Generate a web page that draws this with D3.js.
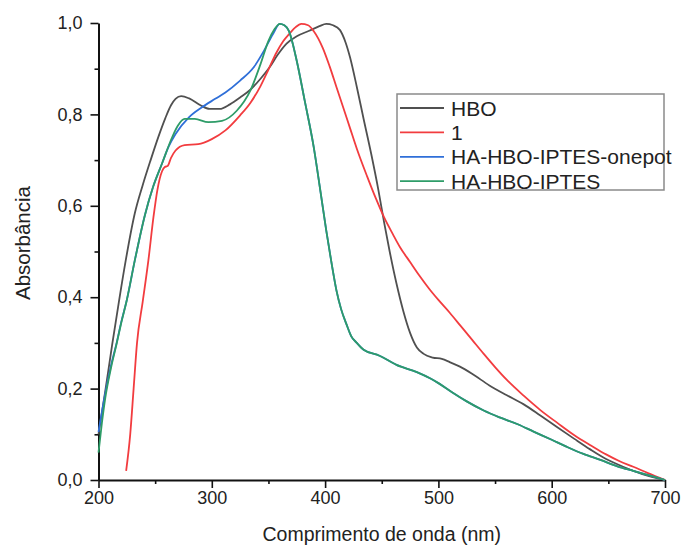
<!DOCTYPE html>
<html>
<head>
<meta charset="utf-8">
<script src="https://cdn.jsdelivr.net/npm/d3@7"></script>
<style>
  body { margin: 0; background: #fff; }
  svg { font-family: "Liberation Sans", Arial, sans-serif; }
</style>
</head>
<body>
<svg id="chart" width="681" height="551"></svg>
<script>
// series names + colours
const seriesNames = ["HBO", "1", "HA-HBO-IPTES-onepot", "HA-HBO-IPTES"];
const seriesColors = ["#505050", "#f23c3f", "#2f6fd8", "#2e9c68"];

// values: [wavelength nm, absorbance]
const hbo = [[200,0.10],[206,0.195],[212,0.295],[218,0.39],[224,0.48],[232,0.583],[239,0.645],[246,0.70],[253,0.752],
  [259,0.792],[264,0.82],[268,0.834],[273,0.84],[280,0.835],[290,0.82],[298,0.812],[307,0.812],[316,0.822],[325,0.837],
  [334,0.854],[343,0.878],[351,0.903],[358,0.93],[366,0.955],[375,0.971],[386,0.983],[395,0.993],[401,0.998],[407,0.995],
  [413,0.985],[418,0.958],[422,0.925],[428,0.86],[434,0.79],[441,0.71],[447,0.635],[452,0.565],[457,0.50],[463,0.43],
  [469,0.37],[475,0.322],[481,0.29],[487,0.276],[495,0.268],[503,0.265],[510,0.258],[519,0.248],[530,0.232],[545,0.207],
  [560,0.186],[575,0.166],[590,0.141],[604,0.117],[620,0.09],[634,0.067],[648,0.046],[663,0.029],[680,0.013],[700,0]];

const red1 = [[224.4,0.02],[228,0.10],[231,0.20],[234,0.30],[239,0.39],[244,0.48],[248.5,0.575],[252,0.635],[256,0.675],
  [258.5,0.685],[261,0.687],[264,0.705],[268,0.721],[276,0.733],[288,0.735],[300,0.746],[312,0.765],[325,0.798],[334,0.825],
  [343,0.862],[350,0.898],[357,0.935],[363,0.96],[369,0.978],[374,0.991],[379,0.998],[385,0.995],[390,0.982],[398,0.945],
  [404,0.905],[410,0.86],[416,0.815],[422,0.77],[428,0.725],[437,0.665],[445,0.615],[452,0.575],[460,0.537],[466,0.51],
  [475,0.477],[483,0.448],[492,0.418],[500,0.394],[510,0.366],[520,0.336],[530,0.306],[540,0.276],[550,0.247],[560,0.22],
  [575,0.185],[590,0.153],[605,0.125],[620,0.098],[635,0.075],[648,0.056],[660,0.041],[672,0.029],[685,0.015],[700,0]];

const onepot = [[200,0.105],[206,0.19],[211,0.25],[216,0.30],[220,0.345],[225,0.394],[232,0.48],[241,0.58],
  [248,0.64],[256,0.692],[262,0.73],[268,0.757],[280,0.794],[291,0.815],[303,0.834],[312,0.848],[325,0.874],[337,0.903],
  [346,0.939],[354,0.976],[360,0.998],[364,0.995],[368,0.983],[375,0.917],[382,0.83],[390,0.728],[396,0.63],[401,0.546],
  [406,0.47],[410,0.415],[414,0.375],[419,0.34],[423,0.315],[428,0.30],[434,0.285],[448,0.272],[463,0.252],[481,0.236],
  [493,0.222],[500,0.212],[512,0.192],[525,0.172],[540,0.152],[554,0.137],[570,0.122],[584,0.106],[600,0.088],[613,0.073],
  [628,0.057],[643,0.044],[658,0.03],[672,0.02],[686,0.01],[700,0]];

const iptes = [[200,0.06],[203,0.125],[206,0.18],[211,0.245],[216,0.298],[220,0.343],[225,0.394],[232,0.48],[241,0.58],
  [248,0.64],[256,0.692],[265,0.75],[270,0.775],[276,0.79],[285,0.79],[297,0.783],[309,0.786],[322,0.808],[334,0.852],
  [343,0.91],[350,0.961],[355,0.985],[360,0.998],[364,0.995],[368,0.983],[375,0.917],[382,0.83],[390,0.728],[396,0.63],
  [401,0.546],[406,0.47],[410,0.415],[414,0.375],[419,0.34],[423,0.315],[428,0.30],[434,0.285],[448,0.272],[463,0.252],
  [481,0.236],[493,0.222],[500,0.212],[512,0.192],[525,0.172],[540,0.152],[554,0.137],[570,0.122],[584,0.106],[600,0.088],
  [613,0.073],[628,0.057],[643,0.044],[658,0.03],[672,0.02],[686,0.01],[700,0]];

const xMajor = [200, 300, 400, 500, 600, 700];
const xMinor = [250, 350, 450, 550, 650];
const yMajor = [0, 0.2, 0.4, 0.6, 0.8, 1.0];
const yMinor = [0.1, 0.3, 0.5, 0.7, 0.9];

const allSeries = [hbo, red1, onepot, iptes];

/***** SETUP *****/
const svg = d3.select("#chart");
const margin = {top: 23, left: 98.5, right: 16, bottom: 71};
const width = 681, height = 551;

const xScale = d3.scaleLinear().domain([200, 700]).range([margin.left, width - margin.right]);
const yScale = d3.scaleLinear().domain([0, 1]).range([height - margin.bottom, margin.top]);

/***** AXES *****/
const fmt = d => d3.format(".1f")(d).replace(".", ",");

svg.append("g")
    .attr("transform", `translate(0, ${yScale(0)})`)
    .call(d3.axisBottom(xScale).tickValues(xMinor).tickSize(4).tickFormat(""))
    .call(g => g.select(".domain").remove())
    .selectAll("line").attr("stroke", "#111").attr("stroke-width", 1.6);

svg.append("g")
    .attr("transform", `translate(${margin.left}, 0)`)
    .call(d3.axisLeft(yScale).tickValues(yMinor).tickSize(4).tickFormat(""))
    .call(g => g.select(".domain").remove())
    .selectAll("line").attr("stroke", "#111").attr("stroke-width", 1.6);

const xAxis = svg.append("g")
    .attr("transform", `translate(0, ${yScale(0)})`)
    .call(d3.axisBottom(xScale).tickValues(xMajor).tickSize(8).tickSizeOuter(0).tickPadding(3));
xAxis.select(".domain").attr("stroke", "#111").attr("stroke-width", 2);
xAxis.selectAll("line").attr("stroke", "#111").attr("stroke-width", 1.6);
xAxis.selectAll("text").style("font-size", "18px").attr("fill", "#222");

const yAxis = svg.append("g")
    .attr("transform", `translate(${margin.left}, 0)`)
    .call(d3.axisLeft(yScale).tickValues(yMajor).tickSize(8).tickSizeOuter(0).tickPadding(8).tickFormat(fmt));
yAxis.select(".domain").attr("stroke", "#111").attr("stroke-width", 2);
yAxis.selectAll("line").attr("stroke", "#111").attr("stroke-width", 1.6);
yAxis.selectAll("text").style("font-size", "18px").attr("fill", "#222");

svg.append("text")
    .attr("x", (xScale(200) + xScale(700)) / 2)
    .attr("y", 541)
    .attr("text-anchor", "middle")
    .style("font-size", "19.5px")
    .attr("fill", "#222")
    .text("Comprimento de onda (nm)");

svg.append("text")
    .attr("transform", "translate(30, 243) rotate(-90)")
    .attr("text-anchor", "middle")
    .style("font-size", "20.5px")
    .attr("fill", "#222")
    .text("Absorbância");

/***** LINES *****/
const line = d3.line()
    .x(d => xScale(d[0]))
    .y(d => yScale(d[1]))
    .curve(d3.curveMonotoneX);

const plot = svg.append("g");
// draw order: HBO, 1, onepot, IPTES (green on top)
allSeries.forEach((s, i) => {
    plot.append("path")
        .datum(s)
        .attr("fill", "none")
        .attr("stroke", seriesColors[i])
        .attr("stroke-width", 1.8)
        .attr("d", line);
});

/***** LEGEND *****/
const legend = svg.append("g").attr("transform", "translate(397, 94)");
legend.append("rect")
    .attr("width", 267).attr("height", 96)
    .attr("fill", "#fff").attr("stroke", "#8a8a8a").attr("stroke-width", 1.5);

seriesNames.forEach((name, i) => {
    const yy = 14 + i * 24.4;
    legend.append("line")
        .attr("x1", 3).attr("x2", 47).attr("y1", yy).attr("y2", yy)
        .attr("stroke", seriesColors[i]).attr("stroke-width", 1.8);
    legend.append("text")
        .attr("x", 54).attr("y", yy + 7.5)
        .style("font-size", "21px")
        .attr("fill", "#222")
        .text(name);
});
</script>
</body>
</html>
